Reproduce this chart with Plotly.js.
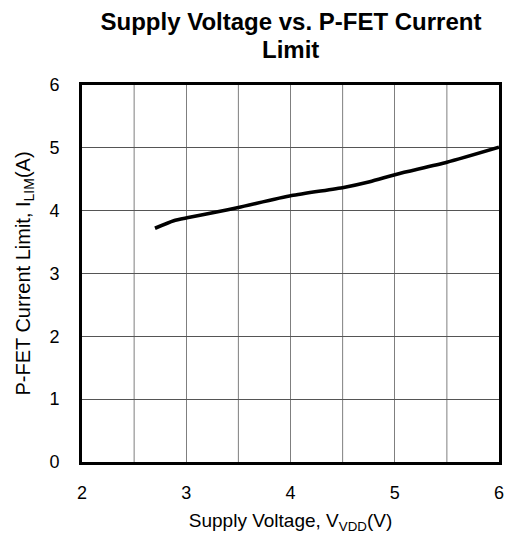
<!DOCTYPE html>
<html>
<head>
<meta charset="utf-8">
<script src="https://cdn.plot.ly/plotly-3.0.1.min.js"></script>
<style>html,body{margin:0;padding:0;background:#fff;}#chart{width:506px;height:534px;}</style>
</head>
<body>
<div id="chart"></div>
<script>
const supplyVoltage = [2.70, 2.88, 3.02, 3.29, 3.50, 4.01, 4.51, 4.76, 5.02, 5.50, 6.00];
const currentLimit  = [3.72, 3.84, 3.89, 3.98, 4.05, 4.24, 4.37, 4.46, 4.58, 4.77, 5.01];
const xTicks = [2, 3, 4, 5, 6];
const yTicks = [0, 1, 2, 3, 4, 5, 6];
const xMinorGrid = [2.5, 3.5, 4.5, 5.5];

const font = "Liberation Sans, Arial, sans-serif";
const trace = {
  x: supplyVoltage, y: currentLimit, mode: 'lines', type: 'scatter',
  line: {color: '#000', width: 3.6, shape: 'spline', smoothing: 0.6},
  hoverinfo: 'skip'
};
const layout = {
  width: 506, height: 534,
  margin: {l: 82, r: 7, t: 85, b: 72},
  paper_bgcolor: '#fff', plot_bgcolor: '#fff',
  showlegend: false,
  font: {family: font, color: '#000', size: 18},
  title: {text: '<b>Supply Voltage vs. P-FET Current</b>', font: {family: font, size: 24, color: '#000'},
          xref: 'container', x: 291/506, xanchor: 'center', yref: 'container', y: 1 - 22/534, yanchor: 'middle'},
  annotations: [{text: '<b>Limit</b>', xref: 'paper', yref: 'paper', x: (290-82)/417, y: 1 + (85-49)/377,
                 xanchor: 'center', yanchor: 'middle', showarrow: false, font: {family: font, size: 24, color: '#000'}}],
  xaxis: {
    range: [2, 6], tickvals: xTicks, ticktext: xTicks.map(String),
    showgrid: true, gridcolor: '#7f7f7f', gridwidth: 1,
    showline: true, linecolor: '#000', linewidth: 3, mirror: true,
    ticks: '', ticklabelstandoff: 12, zeroline: false, tickfont: {size: 18},
    title: {text: 'Supply Voltage, V<sub>VDD</sub>(V)', font: {size: 19, family: font}, standoff: 15}
  },
  yaxis: {
    range: [0, 6], tickvals: yTicks, ticktext: yTicks.map(String),
    showgrid: true, gridcolor: '#555', gridwidth: 1,
    showline: true, linecolor: '#000', linewidth: 3, mirror: true,
    ticks: '', ticklabelstandoff: 16, zeroline: false, tickfont: {size: 18},
    title: {text: 'P-FET Current Limit, I<sub>LIM</sub>(A)', font: {size: 20, family: font}, standoff: 14}
  },
  shapes: xMinorGrid.map(v => ({type:'line', xref:'x', yref:'paper', x0: v, x1: v, y0:0, y1:1, line:{color:'#7f7f7f', width:1}, layer:'below'}))
};
Plotly.newPlot('chart', [trace], layout, {displayModeBar: false, staticPlot: true});
</script>
</body>
</html>
